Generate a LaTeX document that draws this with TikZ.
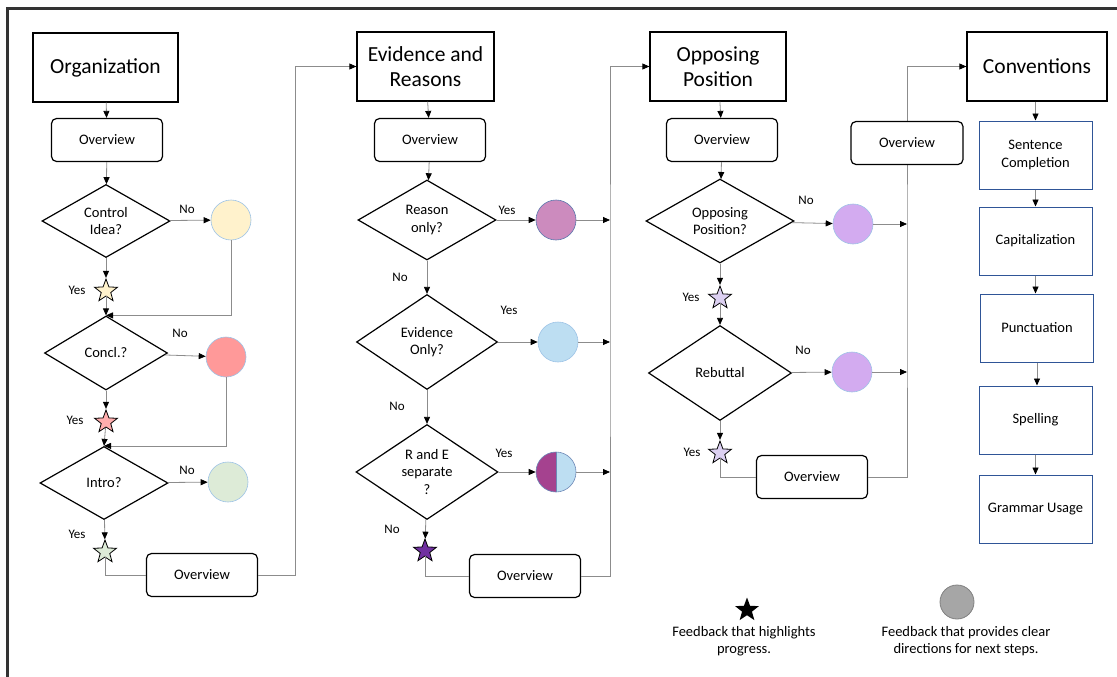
\documentclass[tikz,border=0pt]{standalone}
\usepackage{fontspec}
\setmainfont{Carlito}
\usetikzlibrary{shapes.geometric,arrows.meta}

\definecolor{cream}{HTML}{FFF2CC}
\definecolor{salmon}{HTML}{FF9999}
\definecolor{mint}{HTML}{DDEBD7}
\definecolor{orchid}{HTML}{CC8BBE}
\definecolor{skyblue}{HTML}{BDDEF2}
\definecolor{plum}{HTML}{A5428F}
\definecolor{lilac}{HTML}{D3ABF0}
\definecolor{lilacstar}{HTML}{DCD0F2}
\definecolor{grape}{HTML}{7030A0}
\definecolor{rimblue}{HTML}{9DC3E6}
\definecolor{boxblue}{HTML}{2F5597}
\definecolor{wire}{HTML}{8C8C8C}
\definecolor{frame}{HTML}{333333}

\begin{document}
\begin{tikzpicture}[x=1pt,y=-1pt,
						every node/.style={font=\fontsize{14.5}{17.5}\selectfont,align=center},
						title/.style={draw,line width=1.3pt,minimum height=69pt,
						font=\fontsize{21.5}{25.5}\selectfont},
						overview/.style={draw,fill=white,line width=1.2pt,rounded corners=5pt,
						minimum width=111pt,minimum height=43pt},
						decision/.style={diamond,draw,line width=1.2pt,inner sep=1pt,aspect=1.7},
						fb/.style={circle,draw=rimblue,line width=0.6pt,minimum size=40pt,inner sep=0pt},
						praise/.style={star,star points=5,star point ratio=2.4,draw,line width=0.8pt,
						minimum size=24pt,inner sep=0pt},
						topic/.style={draw=boxblue,line width=1pt,minimum width=113pt,minimum height=68pt},
						yn/.style={font=\fontsize{13}{15}\selectfont},
						link/.style={draw=wire,line width=0.8pt},
						go/.style={link,-{Triangle[length=7pt,width=6pt,color=black]}}]

		\useasboundingbox (0,0) rectangle (1117,677);
		\draw[frame,line width=3pt] (7,677) -- (7,9) -- (1117,9);

		\node [title,minimum width=145pt] (t1) at (105.5,67.5) {Organization};
		\node [overview] (ov1a) at (107,140) {Overview};
		\node [decision,minimum width=128pt,minimum height=73pt] (d1) at (106,221) {Control\\Idea?};
		\node [fb,fill=cream] (c1) at (231,220) {};
		\node [praise,fill=cream] (s1) at (106,291) {};
		\node [decision,minimum width=123pt,minimum height=74pt] (d2) at (106,353) {Concl.?};
		\node [fb,fill=salmon] (c2) at (226,357) {};
		\node [praise,fill=salmon!80] (s2) at (106,422) {};
		\node [decision,minimum width=128pt,minimum height=73pt] (d3) at (104,483) {Intro?};
		\node [fb,fill=mint] (c3) at (228,482) {};
		\node [praise,fill=mint] (s3) at (105,552) {};
		\node [overview] (ov1b) at (202,575) {Overview};

		\node [yn] (n1) at (187,209) {No};
		\node [yn] (y1) at (77,290) {Yes};
		\node [yn] (n2) at (180,333) {No};
		\node [yn] (y2) at (75,420) {Yes};
		\node [yn] (n3) at (187,470) {No};
		\node [yn] (y3) at (77,534) {Yes};

		\draw[go] (t1) -- (ov1a);
		\draw[go] (ov1a) -- (d1);
		\draw[go] (d1) -- (c1);
		\draw[go] (d1) -- (s1);
		\draw[go] (s1) -- (d2.north);
		\draw[go] (c1) |- (d2.north);
		\draw[go] (d2) -- (c2);
		\draw[go] (d2) -- (s2);
		\draw[go] (s2) -- (d3.north);
		\draw[go] (c2) |- (d3.north);
		\draw[go] (d3) -- (c3);
		\draw[go] (d3) -- (s3);
		\draw[link] (s3) |- (ov1b.west);

		\node [title,minimum width=137pt] (t2) at (425.5,66.5) {Evidence and\\Reasons};
		\node [overview] (ov2a) at (430,140) {Overview};
		\node [decision,minimum width=138pt,minimum height=80pt] (d4) at (427,220) {Reason\\only?};
		\node [fb,fill=orchid,draw=boxblue!80] (c4) at (556,220) {};
		\node [decision,minimum width=141pt,minimum height=95pt] (d5) at (427,342) {Evidence\\Only?};
		\node [fb,fill=skyblue] (c5) at (558,342) {};
		\node [decision,minimum width=142pt,minimum height=95pt] (d6) at (427,472) {R and E\\separate\\?};
		\node [fb,fill=skyblue,draw=boxblue!70,path picture={
			\fill[plum] (path picture bounding box.south) rectangle (path picture bounding box.north west);
			\draw[boxblue!70,line width=0.8pt] (path picture bounding box.south) -- (path picture bounding box.north);
		}] (c6) at (556,472) {};
		\node [praise,fill=grape] (s6) at (425,551) {};
		\node [overview] (ov2b) at (525,576) {Overview};

		\node [yn] (y4) at (507,210) {Yes};
		\node [yn] (n4) at (400,277) {No};
		\node [yn] (y5) at (509,310) {Yes};
		\node [yn] (n5) at (397,406) {No};
		\node [yn] (y6) at (504,453) {Yes};
		\node [yn] (n6) at (392,529) {No};

		\coordinate (bus2) at (610,300);

		\draw[go] (ov1b.east) -- ++(37,0) |- (t2.west);
		\draw[go] (t2) -- (ov2a);
		\draw[go] (ov2a) -- (d4);
		\draw[go] (d4) -- (c4);
		\draw[go] (d4) -- (d5);
		\draw[go] (d5) -- (c5);
		\draw[go] (d5) -- (d6);
		\draw[go] (d6) -- (c6);
		\draw[go] (d6) -- (s6);
		\draw[go] (c4) -- (c4 -| bus2);
		\draw[go] (c5) -- (c5 -| bus2);
		\draw[go] (c6) -- (c6 -| bus2);
		\draw[link] (s6) |- (ov2b.west);

		\node [title,minimum width=136pt] (t3) at (718,66.5) {Opposing\\Position};
		\node [overview] (ov3a) at (722,140) {Overview};
		\node [decision,minimum width=148pt,minimum height=84pt] (d7) at (720,221) {Opposing\\Position?};
		\node [fb,fill=lilac] (c7) at (853,224) {};
		\node [praise,fill=lilacstar] (s7) at (720,298) {};
		\node [decision,minimum width=143pt,minimum height=95pt] (d8) at (720,373) {Rebuttal};
		\node [fb,fill=lilac] (c8) at (852,372) {};
		\node [praise,fill=lilacstar] (s8) at (720,453) {};
		\node [overview] (ov3b) at (812,477) {Overview};

		\node [yn] (n7) at (806,200) {No};
		\node [yn] (y7) at (691,297) {Yes};
		\node [yn] (n8) at (803,350) {No};
		\node [yn] (y8) at (692,452) {Yes};

		\coordinate (bus3) at (907,300);

		\draw[go] (ov2b.east) -| (bus2) |- (t3.west);
		\draw[go] (t3) -- (ov3a);
		\draw[go] (ov3a) -- (d7);
		\draw[go] (d7) -- (c7);
		\draw[go] (d7) -- (s7);
		\draw[go] (s7) -- (d8);
		\draw[go] (d8) -- (c8);
		\draw[go] (d8) -- (s8);
		\draw[go] (c7) -- (c7 -| bus3);
		\draw[go] (c8) -- (c8 -| bus3);
		\draw[link] (s8) |- (ov3b.west);

		\node [title,minimum width=140pt] (t4) at (1037,66.5) {Conventions};
		\node [topic] (k1) at (1035.5,155) {Sentence\\Completion};
		\node [topic] (k2) at (1035.5,241) {Capitalization};
		\node [topic] (k3) at (1037,328) {Punctuation};
		\node [topic] (k4) at (1035.5,420) {Spelling};
		\node [topic] (k5) at (1035.5,509) {Grammar Usage};

		\draw[go] (ov3b.east) -| (bus3) |- (t4.west);
		\node [overview,minimum width=112pt] (ov3c) at (907,143) {Overview};
		\draw[go] (t4.south -| k1) -- (k1);
		\draw[go] (k1) -- (k2);
		\draw[go] (k2.south) -- (k2.south |- k3.north);
		\draw[go] (k3.south) -- (k3.south |- k4.north);
		\draw[go] (k4) -- (k5);

		\node [star,star points=5,star point ratio=2.4,fill=black,minimum size=25pt,inner sep=0pt] (key1) at (747,610) {};
		\node [anchor=north] (key1t) at (744,622.5) {Feedback that highlights\\progress.};
		\node [circle,fill=black!35,draw=black!50,line width=0.8pt,minimum size=34pt,inner sep=0pt] (key2) at (957,602) {};
		\node [anchor=north] (key2t) at (966,622.5) {Feedback that provides clear\\directions for next steps.};

	\end{tikzpicture}
\end{document}
